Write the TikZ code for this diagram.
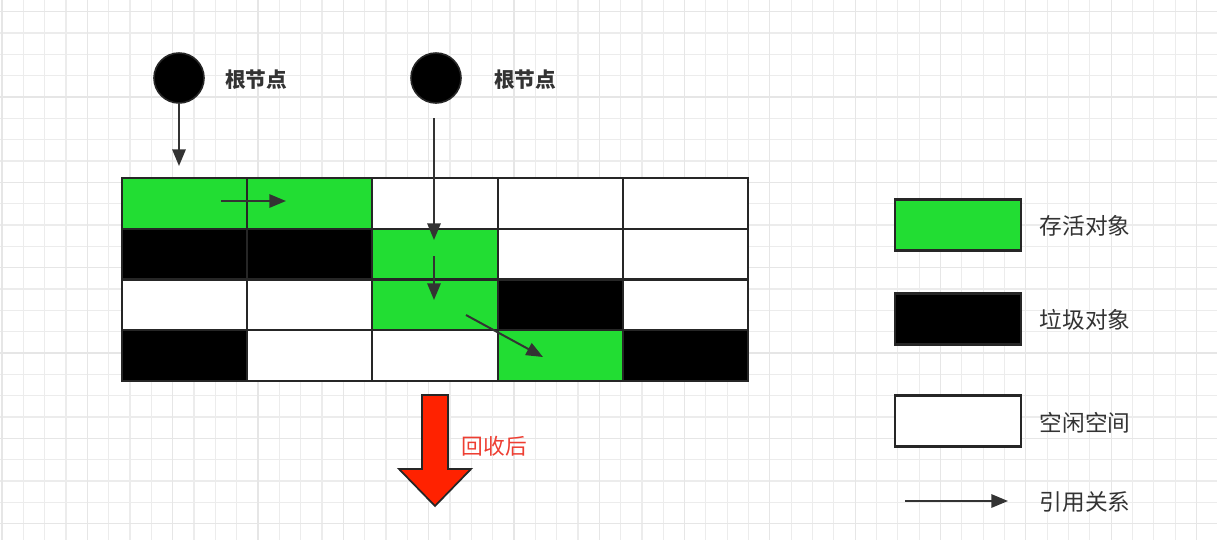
\documentclass[tikz,border=0pt]{standalone}
\usepackage{fontspec}
\newfontfamily\cjk{Noto Sans CJK SC}
\usetikzlibrary{arrows.meta}
\definecolor{livegreen}{RGB}{34,221,51}
\definecolor{edgegray}{RGB}{38,38,38}
\definecolor{arrowgray}{RGB}{51,51,51}
\definecolor{gcred}{RGB}{255,34,0}
\definecolor{gclabel}{RGB}{238,62,50}
\definecolor{gridminor}{RGB}{236,236,236}
\definecolor{gridmajor}{RGB}{230,230,230}

\begin{document}
\begin{tikzpicture}[x=0.75pt,y=0.75pt,yscale=-1,xscale=1,
  cell/.style={draw=edgegray,line width=1.6pt,minimum width=93.9pt,minimum height=38.06pt,inner sep=0pt,outer sep=0pt},
  keybox/.style={draw=edgegray,line width=1.6pt,minimum width=94.5pt,minimum height=38.25pt,inner sep=0pt,outer sep=0pt},
  live/.style={fill=livegreen},
  junk/.style={fill=black},
  free/.style={fill=white},
  root/.style={circle,draw=edgegray,line width=1.2pt,fill=black,minimum size=37.5pt,inner sep=0pt},
  rootlabel/.style={font=\cjk\bfseries\fontsize{15.5}{18}\selectfont,text=arrowgray},
  keylabel/.style={font=\cjk\fontsize{17}{20}\selectfont,text=arrowgray,anchor=west},
  ref/.style={draw=arrowgray,line width=1.5pt,-{Triangle[length=12.5pt,width=10pt]}},
]
\useasboundingbox (0,0) rectangle (1217,540);

%Background grid
\fill[white] (0,0) rectangle (1217,540);
\foreach \i in {0,...,57} {\draw[gridminor,line width=0.9pt] ({2+21.33*\i},0) -- ({2+21.33*\i},540);}
\foreach \j in {0,...,25} {\draw[gridminor,line width=0.9pt] (0,{11.7+21.33*\j}) -- (1217,{11.7+21.33*\j});}
\foreach \i in {0,4,...,56} {\draw[gridmajor,line width=0.9pt] ({2+21.33*\i},0) -- ({2+21.33*\i},540);}
\foreach \j in {0,4,...,24} {\draw[gridmajor,line width=0.9pt] (0,{11.7+21.33*\j}) -- (1217,{11.7+21.33*\j});}

%Shape: Memory cells
\foreach \row/\kinds in {1/{live,live,free,free,free},2/{junk,junk,live,free,free},3/{free,free,live,junk,free},4/{junk,free,free,live,junk}}
  \foreach \kind [count=\col] in \kinds
    \node[cell,\kind] (c\row\col) at ({122+125.2*(\col-0.5)},{178+50.75*(\row-0.5)}) {};

%Shape: Root nodes
\node[root] (root1) at (179,78) {};
\node[root] (root2) at (436,78) {};

% Text Node
\node[rootlabel] (rootlab1) at (256,80) {根节点};
% Text Node
\node[rootlabel] (rootlab2) at (525,80) {根节点};

%Straight Lines: references
\coordinate (r1end) at (179,166);
\coordinate (r2start) at (434,118);
\coordinate (r2end) at (434,240);
\coordinate (h1start) at (221,201);
\coordinate (h1end) at (286,201);
\coordinate (v1start) at (434,256);
\coordinate (v1end) at (434,300);
\coordinate (d1start) at (466,315);
\coordinate (d1end) at (543,357);
\draw[ref] (root1) -- (r1end);
\draw[ref] (r2start) -- (r2end);
\draw[ref] (h1start) -- (h1end);
\draw[ref] (v1start) -- (v1end);
\draw[ref] (d1start) -- (d1end);

%Shape: Collect arrow
\draw[fill=gcred,draw=edgegray,line width=1.3pt,line join=miter] (422,395) -- (448,395) -- (448,469) -- (471,469) -- (435,506) -- (399,469) -- (422,469) -- cycle;
% Text Node
\node[font=\cjk\fontsize{16.3}{19}\selectfont,text=gclabel] (collectlab) at (494.5,446) {回收后};

%Legend
\node[keybox,live] (keylive) at (958,225) {};
\node[keybox,junk] (keyjunk) at (958,319) {};
\node[keybox,free] (keyfree) at (958,421) {};
\coordinate (keyrefs) at (905,501);
\coordinate (keyrefe) at (1008,501);
\draw[ref] (keyrefs) -- (keyrefe);
% Text Node
\node[keylabel] (keylivelab) at (1035,225.5) {存活对象};
% Text Node
\node[keylabel] (keyjunklab) at (1035,320) {垃圾对象};
% Text Node
\node[keylabel] (keyfreelab) at (1035,423) {空闲空间};
% Text Node
\node[keylabel] (keyreflab) at (1035,502) {引用关系};

\end{tikzpicture}
\end{document}
